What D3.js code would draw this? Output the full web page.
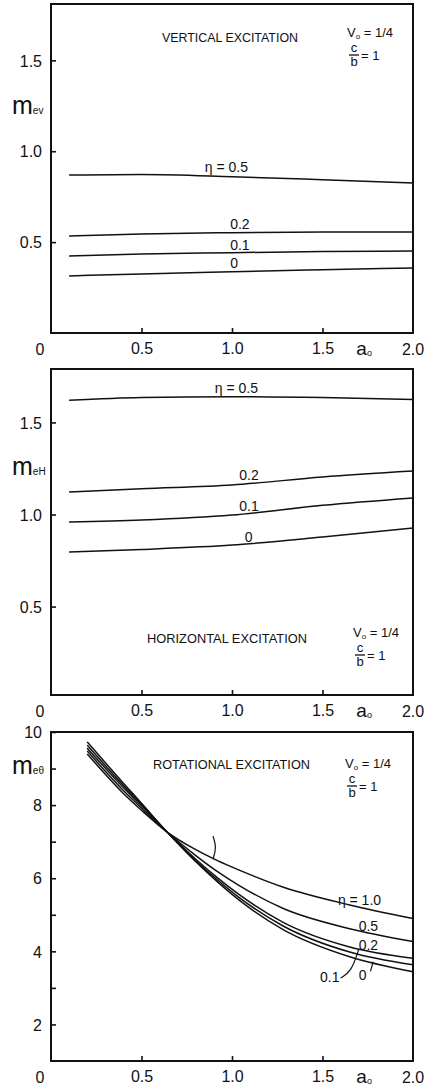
<!DOCTYPE html>
<html>
<head>
<meta charset="utf-8">
<script src="https://cdn.jsdelivr.net/npm/d3@7/dist/d3.min.js"></script>
<style>
  html, body { margin: 0; padding: 0; background: #fff; }
  svg { display: block; }
  text { font-family: "Liberation Sans", Arial, sans-serif; fill: #111; }
</style>
</head>
<body>
<svg id="chart" width="425" height="1086"></svg>
<script>
// ---- data -------------------------------------------------------------
// frequency ratio a0 at which the curves are sampled
const a0Lin = [0.1, 0.5, 1.0, 1.5, 2.0];
const a0Rot = [0.2, 0.4, 0.5, 0.64, 0.8, 0.92, 1.04, 1.28, 1.65, 2.0];

// vertical excitation, m_ev
const vertEta = ["0.5", "0.2", "0.1", "0"];
const vert05 = [0.869, 0.872, 0.860, 0.843, 0.825];
const vert02 = [0.534, 0.545, 0.552, 0.555, 0.556];
const vert01 = [0.424, 0.435, 0.442, 0.448, 0.451];
const vert00 = [0.314, 0.325, 0.337, 0.348, 0.358];

// horizontal excitation, m_eH
const horEta = ["0.5", "0.2", "0.1", "0"];
const hor05 = [1.620, 1.635, 1.640, 1.635, 1.625];
const hor02 = [1.122, 1.140, 1.160, 1.204, 1.236];
const hor01 = [0.959, 0.970, 0.997, 1.050, 1.090];
const hor00 = [0.796, 0.810, 0.834, 0.878, 0.927];

// rotational excitation, m_etheta
const rotEta = ["1.0", "0.5", "0.2", "0.1", "0"];
const rot10 = [9.40, 8.32, 7.86, 7.27, 6.78, 6.48, 6.22, 5.76, 5.27, 4.90];
const rot05 = [9.48, 8.40, 7.92, 7.27, 6.62, 6.18, 5.80, 5.18, 4.62, 4.27];
const rot02 = [9.56, 8.48, 7.98, 7.27, 6.52, 6.01, 5.55, 4.80, 4.12, 3.81];
const rot01 = [9.64, 8.54, 8.02, 7.27, 6.48, 5.95, 5.47, 4.70, 3.98, 3.63];
const rot00 = [9.73, 8.60, 8.05, 7.27, 6.45, 5.90, 5.40, 4.60, 3.85, 3.44];

// tick labels
const xTicks = [0.5, 1.0, 1.5];
const xTickLabels = ["0.5", "1.0", "1.5"];
const yTicksLin = [0.5, 1.0, 1.5];
const yTicksRot = [2, 3, 4, 5, 6, 7, 8, 9, 10];

// ---- drawing ----------------------------------------------------------
const svg = d3.select("#chart");
const INK = "#111";
const x = d3.scaleLinear().domain([0, 2]).range([51, 413]);

const panels = [
  {
    top: 4, bottom: 333, domain: [0, 1.81],
    yTicks: yTicksLin, yFmt: d3.format(".1f"),
    a0: a0Lin, series: [vert05, vert02, vert01, vert00], eta: vertEta,
    ylab: "m", ysub: "ev", ylabY: 107,
    title: "VERTICAL EXCITATION", titleX: 162, titleW: 136, titleY: 42,
    paramX: 347, paramY: 37,
    labels: [
      { t: "\u03b7 = 0.5", a: 0.85, v: 0.886 },
      { t: "0.2", a: 0.99, v: 0.572 },
      { t: "0.1", a: 0.99, v: 0.457 },
      { t: "0", a: 0.99, v: 0.357 }
    ]
  },
  {
    top: 369, bottom: 695, domain: [0.02, 1.79],
    yTicks: yTicksLin, yFmt: d3.format(".1f"),
    a0: a0Lin, series: [hor05, hor02, hor01, hor00], eta: horEta,
    ylab: "m", ysub: "eH", ylabY: 468,
    title: "HORIZONTAL EXCITATION", titleX: 147, titleW: 160, titleY: 643,
    paramX: 353, paramY: 637,
    labels: [
      { t: "\u03b7 = 0.5", a: 0.905, v: 1.66 },
      { t: "0.2", a: 1.04, v: 1.187 },
      { t: "0.1", a: 1.04, v: 1.019 },
      { t: "0", a: 1.07, v: 0.85 }
    ]
  },
  {
    top: 732, bottom: 1061, domain: [1, 10],
    yTicks: yTicksRot, yFmt: d => (d % 2 === 0 ? String(d) : ""),
    a0: a0Rot, series: [rot10, rot05, rot02, rot01, rot00], eta: rotEta,
    ylab: "m", ysub: "e\u03b8", ylabY: 767,
    title: "ROTATIONAL EXCITATION", titleX: 153, titleW: 157, titleY: 769,
    paramX: 345, paramY: 768,
    labels: [
      { t: "\u03b7 = 1.0", a: 1.585, v: 5.27 },
      { t: "0.5", a: 1.70, v: 4.56 },
      { t: "0.2", a: 1.70, v: 4.04 },
      { t: "0.1", a: 1.486, v: 3.16 },
      { t: "0", a: 1.70, v: 3.22 }
    ]
  }
];

panels.forEach((p, pi) => {
  const y = d3.scaleLinear().domain(p.domain).range([p.bottom, p.top]);
  const g = svg.append("g");

  // frame
  g.append("rect")
    .attr("x", x(0)).attr("y", p.top)
    .attr("width", x(2) - x(0)).attr("height", p.bottom - p.top)
    .attr("fill", "none").attr("stroke", INK).attr("stroke-width", 2);

  // y axis, ticks pointing inward
  const yAxis = g.append("g")
    .attr("transform", `translate(${x(0)},0)`)
    .call(d3.axisLeft(y).tickValues(p.yTicks).tickFormat(p.yFmt)
      .tickSizeInner(-5).tickSizeOuter(0).tickPadding(9));
  yAxis.select(".domain").remove();
  yAxis.selectAll(".tick line").attr("stroke", INK).attr("stroke-width", 1.6);
  yAxis.selectAll(".tick text")
    .style("font-size", "16px").attr("fill", INK).attr("dy", "0.36em");

  // x axis, ticks pointing inward
  const xAxis = g.append("g")
    .attr("transform", `translate(0,${p.bottom})`)
    .call(d3.axisBottom(x).tickValues(xTicks)
      .tickFormat((d, i) => xTickLabels[i])
      .tickSizeInner(-5).tickSizeOuter(0).tickPadding(10));
  xAxis.select(".domain").remove();
  xAxis.selectAll(".tick line").attr("stroke", INK).attr("stroke-width", 1.6);
  xAxis.selectAll(".tick text").style("font-size", "16px").attr("fill", INK);

  const lblY = p.bottom + 22;
  g.append("text").attr("x", x(0) - 11).attr("y", lblY)
    .attr("text-anchor", "middle").style("font-size", "16px").text("0");
  g.append("text").attr("x", x(2)).attr("y", lblY)
    .attr("text-anchor", "middle").style("font-size", "16px").text("2.0");
  const ax = g.append("text").attr("x", x(1.73)).attr("y", lblY)
    .attr("text-anchor", "middle").style("font-size", "19px");
  ax.append("tspan").text("a");
  ax.append("tspan").attr("dy", 1).style("font-size", "9px").text("o");

  // y-axis quantity label
  const yl = g.append("text").attr("x", 12).attr("y", p.ylabY + 7)
    .style("font-size", "25px");
  yl.append("tspan").text(p.ylab);
  yl.append("tspan").style("font-size", "10px").text(p.ysub);

  // curves
  const line = d3.line()
    .x((d, i) => x(p.a0[i]))
    .y(d => y(d))
    .curve(d3.curveMonotoneX);
  g.selectAll("path.curve").data(p.series).enter().append("path")
    .attr("class", "curve")
    .attr("d", line)
    .attr("fill", "none").attr("stroke", INK).attr("stroke-width", 1.5);

  // curve labels
  g.selectAll("text.lbl").data(p.labels).enter().append("text")
    .attr("class", "lbl")
    .attr("x", d => x(d.a)).attr("y", d => y(d.v))
    .style("font-size", "14px").text(d => d.t);

  // panel title
  g.append("text").attr("x", p.titleX).attr("y", p.titleY)
    .attr("textLength", p.titleW).attr("lengthAdjust", "spacingAndGlyphs")
    .style("font-size", "13px").text(p.title);

  // parameters V0 = 1/4, c/b = 1
  const v = g.append("text").attr("x", p.paramX).attr("y", p.paramY)
    .style("font-size", "13px");
  v.append("tspan").text("V");
  v.append("tspan").attr("dy", 2).style("font-size", "8px").text("o");
  v.append("tspan").attr("dy", -2).text(" = 1/4");
  const fx = p.paramX + 7, fy = p.paramY + 18;
  g.append("text").attr("x", fx).attr("y", fy - 3)
    .attr("text-anchor", "middle").style("font-size", "13px").text("c");
  g.append("line").attr("x1", fx - 5).attr("x2", fx + 5)
    .attr("y1", fy).attr("y2", fy).attr("stroke", INK).attr("stroke-width", 1.3);
  g.append("text").attr("x", fx).attr("y", fy + 11)
    .attr("text-anchor", "middle").style("font-size", "13px").text("b");
  g.append("text").attr("x", fx + 7).attr("y", fy + 5)
    .style("font-size", "13px").text("= 1");

  // leader marks on the rotational panel
  if (pi === 2) {
    const pts = [[0.895, 7.15], [0.915, 6.85], [0.895, 6.52]];
    g.append("path")
      .attr("d", d3.line().x(d => x(d[0])).y(d => y(d[1])).curve(d3.curveBasis)(pts))
      .attr("fill", "none").attr("stroke", INK).attr("stroke-width", 1.2);
    const p01 = [[1.6, 3.27], [1.66, 3.45], [1.7, 4.05]];
    g.append("path")
      .attr("d", d3.line().x(d => x(d[0])).y(d => y(d[1])).curve(d3.curveBasis)(p01))
      .attr("fill", "none").attr("stroke", INK).attr("stroke-width", 1.2);
    g.append("path")
      .attr("d", d3.line().x(d => x(d[0])).y(d => y(d[1]))([[1.765, 3.45], [1.78, 3.72]]))
      .attr("fill", "none").attr("stroke", INK).attr("stroke-width", 1.2);
  }
});
</script>
</body>
</html>
